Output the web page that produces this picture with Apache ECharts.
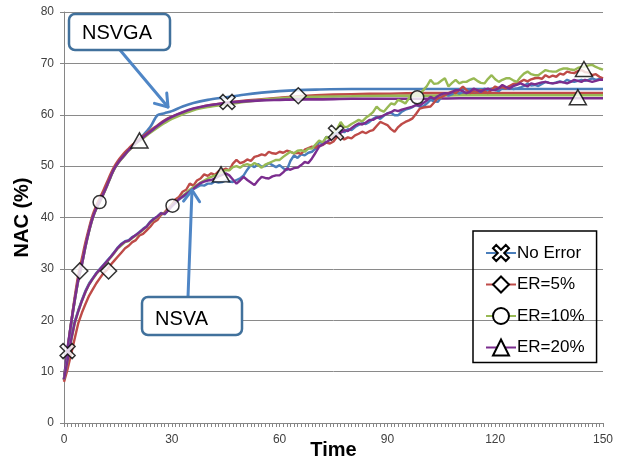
<!DOCTYPE html>
<html><head><meta charset="utf-8">
<script src="https://cdn.jsdelivr.net/npm/echarts@6/dist/echarts.min.js"></script>
<style>html,body{margin:0;padding:0;background:#fff}#c{width:617px;height:465px}</style>
</head><body><div id="c"></div>
<script>
// ---------- DATA ----------
const seriesNames = ['No Error', 'ER=5%', 'ER=10%', 'ER=20%'];
const xTicks = [0, 30, 60, 90, 120, 150];

// NSVGA group (smooth, fast-rising curves)
const timeNSVGA = [0,1,2,3,4,5,6,7,8,9,10,11,12,13,14,15,16,17,18,19,20,22,24,26,28,30,33,36,40,45,50,55,60,65,70,80,90,100,110,120,130,140,150];
const nsvgaNoError = [8.5,14.3,19.5,24,28,31,34.5,37.5,40,41.8,
  43.2,44.7,46.3,48,49.5,50.6,51.5,52.3,53.1,53.9,
  54.7,
  56,57.6,59.9,60.3,60.7,
  61.6,62.3,62.9,63.4,63.9,64.3,64.6,64.8,64.9,
  65,65,65,65,65,65,65,65];
const nsvgaER5 = [8.3,14,19.5,24.5,28.8,32,35.2,38,40.5,42.3,
  43.8,45.3,46.9,48.5,49.9,51,51.9,52.7,53.4,54.1,
  54.7,
  55.8,56.9,57.9,58.9,59.6,
  60.4,61.1,61.8,62.3,62.7,63,63.3,63.6,63.8,
  64,64.1,64.2,64.2,64.2,64.2,64.2,64.2];
const nsvgaER10 = [8.5,14.2,19.4,23.9,27.9,31,34.4,37.4,39.9,41.7,
  43.1,44.6,46.2,47.9,49.4,50.5,51.4,52.2,53,53.7,
  54.4,
  55.4,56.5,57.5,58.4,59.2,
  60.1,60.9,61.5,62,62.5,62.9,63.2,63.4,63.5,
  63.6,63.7,63.7,63.8,63.8,63.8,63.8,63.8];
const nsvgaER20 = [8.5,14.5,19.5,24,28,31,34.5,37.5,40,41.8,
  43.2,44.7,46.3,48,49.5,50.6,51.5,52.3,53.1,53.8,
  54.5,
  55.6,56.7,57.8,58.8,59.6,
  60.5,61.2,61.8,62.3,62.6,62.8,62.9,63,63,
  63.1,63.1,63.1,63.2,63.2,63.2,63.2,63.2];

// NSVA group (noisy, slower curves), one value per time step 0..150
const nsvaNoError = [8.5,12.5,16.5,19.8,22,24,25.8,27.2,28.2,29.2,
  30,30.8,31.6,32.4,33.3,34.2,34.9,35.4,35.6,36.2,
  36.6,37.2,37.8,38.3,39.2,39.8,40.2,40.9,40.6,41.4,
  42.2,42.8,43.5,44,44.4,44.8,45.5,45.9,46.3,46.2,
  46.6,46.6,47,46.8,46.9,47.2,47,46.9,47.3,47.6,
  48.2,49.3,50.2,49.8,50.4,49.9,50,50.6,50.2,49.8,
  50.2,49.6,49.2,51,52.1,51.6,52.3,52.1,52.6,52.8,
  53.4,54.7,54.4,55.7,55.3,56.2,56.5,57,56.6,57.2,
  57,57.6,58,58.4,58.2,58.6,59.2,59.6,59.2,59.8,
  60.3,60.4,59.9,59.9,60.6,61,61.2,61.5,61.9,61.6,
  61.6,62.2,62.9,62.6,62.5,63.4,64.2,63.7,64,64.5,
  64.1,64.4,64.2,64.8,64.5,64.4,64.5,65.1,64.7,65.1,
  64.8,64.6,65.2,65.3,65.5,65,65.1,65.3,65.6,66.1,
  65.7,65.8,65.6,66,66.4,66.2,66.1,66.3,66.5,66.3,
  66.8,66.5,66.4,66.6,66.8,66.6,66.8,67.1,66.8,67,
  66.9];
const nsvaER5 = [8,10.5,13.5,16.5,19.5,21.5,23.2,24.8,26,27.2,
  28.2,29.2,29.8,30.8,31.6,32.4,33.2,34,34.5,35.2,
  35.6,36.5,36.8,37.5,38.2,39.1,39.5,40.5,41,41.8,
  42.5,43.5,44,45,45.4,46.6,46.2,47.2,47.6,48.4,
  48.1,48.6,48.3,49,49.2,49.5,49.2,50.5,51.2,50.6,
  50.8,51.3,51,51.8,52,52.3,52.1,52.8,52.5,52.4,
  52.8,52.6,53,52.8,52.5,52.6,52.4,53.2,53.5,53.8,
  53.6,54,54.1,54.6,54.4,54.8,55.7,55.7,55.2,55.6,
  55.4,56,56.3,56.7,56.4,56.8,57,57.8,58.6,58.3,
  58,57.2,56.7,57.6,58.2,58.6,58.9,59.3,60.2,61.2,
  61.4,61.5,61.6,62.4,63.2,63.4,63.8,64.2,64.5,64.2,
  64.8,65.5,64.8,64.2,64.6,64.4,64.8,64.6,64.2,64.9,
  65.5,65.2,65.4,65.1,65.6,66,66.1,66.4,66.8,66.5,
  66.9,67.1,67.2,67,67.7,67.3,67.6,67.4,68,67.8,
  68.4,68.2,68.1,68.5,68.7,68.3,68.2,67.7,67.9,67.4,
  67.1];
const nsvaER10 = [8.5,12,16,19.4,21.8,23.8,25.5,27,28,29,
  29.8,30.6,31.4,32.2,33.1,34,34.6,35.2,35.4,36,
  36.5,37,37.6,38.2,39,39.6,40.1,40.7,40.8,41.5,
  42.3,43,43.6,44.2,44.8,45.4,45.9,46.3,46.8,47.2,
  47.6,47.9,48.2,48.4,48.9,49.2,49.2,49.8,50,49.7,
  50.2,50.4,50.1,50.6,50.2,49.7,50.3,50.6,50.9,51.2,
  51.2,51.8,52.3,52.8,52.5,53,53.1,52.8,53.4,53.4,
  54.2,55,54.6,55.7,55.2,56.7,57.2,58.6,57.6,57.7,
  58.2,58.6,59,58.7,59.4,59.9,60.5,61.6,60.9,60.6,
  61.4,62.2,62,62.9,62.6,62.2,63.2,63.6,64.2,64,
  64.8,65.6,66.8,66,66.1,66.6,67.1,65.5,66.2,66.8,
  66.1,66.4,66.4,66.8,67.1,66.6,66.2,66.1,67,67.7,
  66.9,66.4,66.8,67.1,67.1,66.7,66.4,67.3,68,68.4,
  67.9,67.7,67.7,68.2,68.7,68.5,68.4,68.4,68.8,69,
  69,68.8,68.7,69.1,69.3,69.4,69.6,69.7,69.3,69,
  68.8];
const nsvaER20 = [8.5,12.2,16.2,19.6,21.8,23.8,25.6,27,28.1,29.1,
  29.9,30.7,31.5,32.3,33.2,34.1,34.8,35.3,35.5,36.1,
  36.6,37.1,37.7,38.2,39.1,39.7,40.2,40.8,40.7,41.4,
  42.2,42.9,43.6,44.1,44.6,45.1,45.6,46.2,46.7,47,
  47.2,47.3,47.6,48,48.3,48.6,48.2,47.4,46.6,47.2,
  47.9,47.3,46.8,46.3,47.2,47.9,47.7,47.6,48,48.2,
  48.2,48.8,49.5,49.3,49.6,49.7,50.2,50.8,50.6,51.5,
  52.6,53.8,54.2,54.7,55.1,55.7,56.1,56.5,57,56.8,
  57.4,57.9,58.3,58.1,58.5,59,59,59.4,59.6,59.9,
  60.2,60.5,60.9,60.7,61,61.2,61.4,61.6,61.9,61.8,
  62.3,62.8,63.5,63.1,63.6,64,64.2,64.1,64.4,64.8,
  64.8,64.6,64.2,64.5,65.1,64.8,64.5,64.9,65.1,64.8,
  64.8,65.2,65.8,65.4,65.1,65.6,65.8,66.1,65.8,65.5,
  66.1,65.9,66.1,66.3,66.4,66.2,66.1,66.2,66.4,66.3,
  66.1,66.4,66.8,66.6,66.4,66.8,66.6,66.4,66.6,66.8,
  66.8];

// marker positions [time, NAC]
const markNoError = [[1, 14], [45.5, 62.5], [75.7, 56.5]];
const markER5 = [[4.4, 29.6], [12.4, 29.6], [65.2, 63.7]];
const markER10 = [[9.9, 43], [30.2, 42.3], [98.3, 63.4]];
const markER20 = [[21, 55], [43.7, 48.4], [144.7, 68.9], [143, 63.4]];

// ---------- STYLE ----------
const colors = ['#4A7EBB', '#BE4B48', '#98B954', '#7B2D8E'];
const crossPath = 'path://M2,0L5,3L8,0L10,2L7,5L10,8L8,10L5,7L2,10L0,8L3,5L0,2Z';
const symbols = [crossPath, 'diamond', 'circle', 'triangle'];
const symSizes = [15, 16, 13, [17, 15]];
const nsvgaData = [nsvgaNoError, nsvgaER5, nsvgaER10, nsvgaER20];
const nsvaData = [nsvaNoError, nsvaER5, nsvaER10, nsvaER20];
const markData = [markNoError, markER5, markER10, markER20];

const series = [];
const markerStyle = { color: '#fff', borderColor: '#000', borderWidth: 1.5 };
for (let k = 0; k < 4; k++) {
  series.push({
    name: seriesNames[k], type: 'line', symbol: symbols[k], symbolSize: 14,
    showSymbol: false, smooth: 0.3,
    data: timeNSVGA.map((t, i) => [t, nsvgaData[k][i]]),
    lineStyle: { color: colors[k], width: 2.6 }, itemStyle: markerStyle,
    z: 2, silent: true
  });
}
for (let k = 0; k < 4; k++) {
  series.push({
    name: seriesNames[k], type: 'line', symbol: symbols[k], symbolSize: 14,
    showSymbol: false,
    data: nsvaData[k].map((v, i) => [i, v]),
    lineStyle: { color: colors[k], width: 2.4 }, itemStyle: markerStyle,
    z: 2, silent: true
  });
}
for (let k = 0; k < 4; k++) {
  series.push({
    name: seriesNames[k], type: 'scatter', symbol: symbols[k], symbolSize: symSizes[k],
    data: markData[k], itemStyle: markerStyle, z: 5, silent: true
  });
}

const chart = echarts.init(document.getElementById('c'), null, { renderer: 'canvas' });

function arrow(x1, y1, x2, y2) {
  const dx = x2 - x1, dy = y2 - y1, L = Math.hypot(dx, dy);
  const bx = -dx / L, by = -dy / L, a = 35 * Math.PI / 180, w = 14;
  const c = Math.cos(a), s = Math.sin(a);
  const w1 = [x2 + w * (bx * c - by * s), y2 + w * (bx * s + by * c)];
  const w2 = [x2 + w * (bx * c + by * s), y2 + w * (-bx * s + by * c)];
  const st = { stroke: '#4F86C6', lineWidth: 3, fill: null, lineCap: 'round', lineJoin: 'round' };
  return [
    { type: 'polyline', z: 50, shape: { points: [[x1, y1], [x2, y2]] }, style: st },
    { type: 'polyline', z: 50, shape: { points: [w1, [x2, y2], w2] }, style: st }
  ];
}

const graphics = [].concat(
  arrow(120, 50, 168, 107),
  arrow(188, 297, 192, 190),
  [
    { type: 'rect', z: 60, shape: { x: 69, y: 14, width: 101, height: 36, r: 6 },
      style: { fill: '#fff', stroke: '#41719C', lineWidth: 2.5 } },
    { type: 'text', z: 61, x: 82, y: 33,
      style: { text: 'NSVGA', font: '20px "Liberation Sans"', fill: '#000', verticalAlign: 'middle' } },
    { type: 'rect', z: 60, shape: { x: 142, y: 297, width: 100, height: 38, r: 6 },
      style: { fill: '#fff', stroke: '#41719C', lineWidth: 2.5 } },
    { type: 'text', z: 61, x: 155, y: 319,
      style: { text: 'NSVA', font: '20px "Liberation Sans"', fill: '#000', verticalAlign: 'middle' } }
  ]
);

chart.setOption({
  animation: false,
  backgroundColor: '#fff',
  grid: { left: 64, right: 14, top: 12, bottom: 42, containLabel: false, outerBoundsMode: 'none' },
  xAxis: {
    type: 'value', min: 0, max: 150, interval: 30,
    name: 'Time', nameLocation: 'middle', nameGap: 17, nameMoveOverlap: false,
    nameTextStyle: { fontFamily: 'Liberation Sans', fontWeight: 'bold', fontSize: 20, color: '#000', verticalAlign: 'top' },
    axisLine: { lineStyle: { color: '#868686', width: 1 } },
    axisTick: { show: true, length: 4, lineStyle: { color: '#868686' } },
    minorTick: { show: true, splitNumber: 30, length: 4, lineStyle: { color: '#868686' } },
    splitLine: { show: false },
    axisLabel: { fontFamily: 'Liberation Sans', fontSize: 12, color: '#404040', margin: 11,
      formatter: v => (xTicks.indexOf(v) >= 0 ? String(v) : '') }
  },
  yAxis: {
    type: 'value', min: 0, max: 80, interval: 10,
    name: 'NAC (%)', nameLocation: 'middle', nameGap: 32, nameMoveOverlap: false,
    nameTextStyle: { fontFamily: 'Liberation Sans', fontWeight: 'bold', fontSize: 20, color: '#000' },
    axisLine: { show: true, lineStyle: { color: '#868686', width: 1 } },
    axisTick: { show: true, length: 4, lineStyle: { color: '#868686' } },
    splitLine: { show: true, lineStyle: { color: '#8A8A8A', width: 1 } },
    axisLabel: { fontFamily: 'Liberation Sans', fontSize: 12, color: '#404040', margin: 10 }
  },
  legend: {
    data: seriesNames, orient: 'vertical', left: 473, top: 231,
    padding: [13, 12, 6, 12], itemGap: 13.5, itemWidth: 30, itemHeight: 20,
    borderColor: '#000', borderWidth: 1.5, backgroundColor: 'transparent',
    textStyle: { fontFamily: 'Liberation Sans', fontSize: 17, color: '#000', padding: [0, 0, 0, -4] },
    selectedMode: false
  },
  graphic: graphics,
  series: series
});
</script>
</body></html>
